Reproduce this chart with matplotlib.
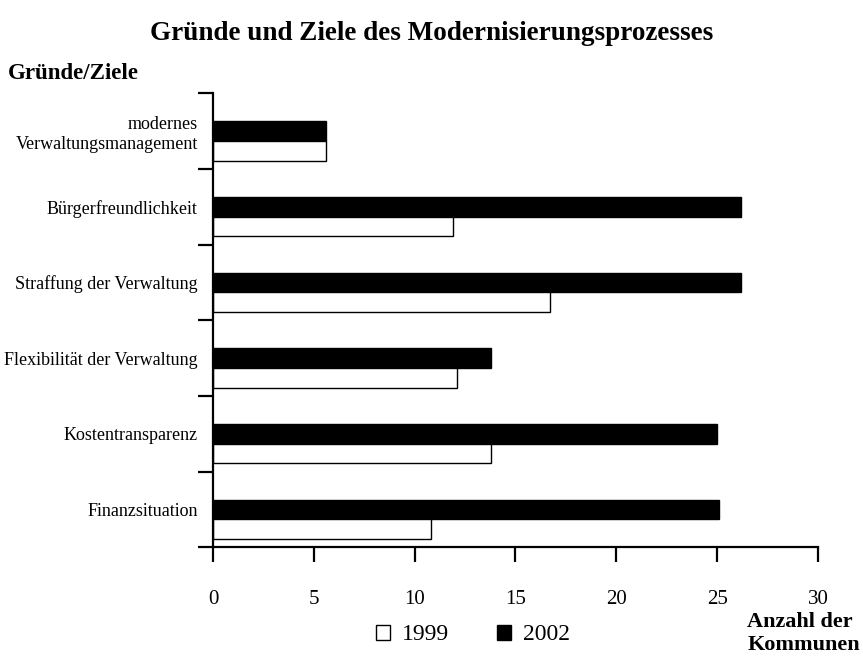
import numpy as np
import matplotlib.pyplot as plt
from matplotlib.patches import Patch

# categories top to bottom
categories = [
    "modernes\nVerwaltungsmanagement",
    "Bürgerfreundlichkeit",
    "Straffung der Verwaltung",
    "Flexibilität der Verwaltung",
    "Kostentransparenz",
    "Finanzsituation",
]
values_2002 = [5.6, 26.2, 26.2, 13.8, 25.0, 25.1]
values_1999 = [5.6, 11.9, 16.7, 12.1, 13.8, 10.8]
x_ticks = [0, 5, 10, 15, 20, 25, 30]

plt.rcParams['font.family'] = ['Liberation Serif', 'DejaVu Serif']

fig = plt.figure(figsize=(8.63, 6.6), dpi=100, facecolor="white")
ax = fig.add_axes([0.2468, 0.1708, 0.701, 0.6878])

y = np.arange(len(categories))
h = 0.26
ax.barh(y, values_2002, height=h, color="black", edgecolor="black", linewidth=1)
ax.barh(y + h, values_1999, height=h, color="white", edgecolor="black", linewidth=1)

ax.set_xlim(0, 30)
ax.set_ylim(len(categories) - 0.5, -0.5)

# spines
for s in ["top", "right"]:
    ax.spines[s].set_visible(False)
for s in ["left", "bottom"]:
    ax.spines[s].set_linewidth(1.6)

# x axis
ax.set_xticks(x_ticks)
ax.set_xticklabels([str(t) for t in x_ticks], fontsize=15)
ax.tick_params(axis="x", direction="out", length=11, width=1.6, pad=20)

# y axis: ticks on boundaries, labels at centers
ax.set_yticks(np.arange(len(categories) + 1) - 0.5)
ax.set_yticklabels([])
ax.tick_params(axis="y", which="major", direction="out", length=11, width=1.6)
ax.set_yticks(y, minor=True)
ax.set_yticklabels(categories, minor=True, fontsize=13)
ax.tick_params(axis="y", which="minor", length=0, pad=11)
for lbl in ax.get_yticklabels(minor=True):
    lbl.set_horizontalalignment("right")
    lbl.set_multialignment("right")

# texts
fig.text(0.5, 0.95, "Gründe und Ziele des Modernisierungsprozesses",
         ha="center", va="center", fontsize=19.5, fontweight="bold")
fig.text(0.009, 0.889, "Gründe/Ziele", ha="left", va="center",
         fontsize=16.5, fontweight="bold")
fig.text(0.866, 0.040, "Anzahl der\nKommunen", ha="left", va="center",
         fontsize=16, fontweight="bold", linespacing=1.2)

handles = [Patch(facecolor="white", edgecolor="black", linewidth=1),
           Patch(facecolor="black", edgecolor="black", linewidth=1)]
fig.legend(handles, ["1999", "2002"], loc="center", ncol=2,
           bbox_to_anchor=(0.548, 0.038), frameon=False, fontsize=17,
           handlelength=0.6, handleheight=0.6, handletextpad=0.5,
           columnspacing=2.0)

fig.savefig("out.png", dpi=100, facecolor="white")
